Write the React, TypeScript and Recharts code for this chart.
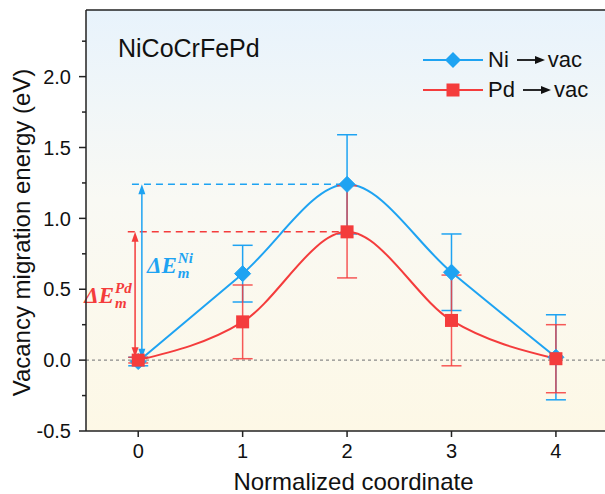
import React from 'react';
import {
  ComposedChart,
  Line,
  XAxis,
  YAxis,
  ErrorBar,
  ReferenceLine,
  ReferenceArea,
  Legend,
} from 'recharts';

// ---- data ----
const coords = [0, 1, 2, 3, 4];
const niEnergy = [-0.01, 0.61, 1.24, 0.62, 0.02];
const niError = [0.03, 0.2, 0.35, 0.27, 0.3];
const pdEnergy = [0.0, 0.27, 0.905, 0.28, 0.01];
const pdError = [0.02, 0.26, 0.325, 0.32, 0.24];
const xTicks = [0, 1, 2, 3, 4];
const yTicks = [-0.5, -0.25, 0, 0.25, 0.5, 0.75, 1.0, 1.25, 1.5, 1.75, 2.0, 2.25];
const seriesNames = ['Ni', 'Pd'];
const compoundName = 'NiCoCrFePd';

const data = coords.map((c, i) => ({
  x: c,
  ni: niEnergy[i],
  niErr: niError[i],
  pd: pdEnergy[i],
  pdErr: pdError[i],
}));

const BLUE = '#1ea3f2';
const RED = '#f43c3c';
const FONT = '"Liberation Sans", Arial, sans-serif';
const SERIF = '"Liberation Serif", "DejaVu Serif", serif';
const X_MIN = -0.5;
const X_MAX = 4.47;
const Y_MIN = -0.5;
const Y_MAX = 2.47;

const Diamond = (props: any) => {
  const { cx, cy } = props;
  if (cx == null || cy == null) return null;
  const r = 8;
  return (
    <polygon
      points={`${cx},${cy - r} ${cx + r},${cy} ${cx},${cy + r} ${cx - r},${cy}`}
      fill={BLUE}
      stroke={BLUE}
      strokeWidth={1}
    />
  );
};

const Square = (props: any) => {
  const { cx, cy } = props;
  if (cx == null || cy == null) return null;
  const r = 6.5;
  return <rect x={cx - r} y={cy - r} width={2 * r} height={2 * r} fill={RED} />;
};

const YTick = (props: any) => {
  const { x, y, payload } = props;
  const v = payload.value as number;
  const major = Math.abs(v * 2 - Math.round(v * 2)) < 1e-6;
  return (
    <g>
      <line x1={x} x2={x - (major ? 7 : 4)} y1={y} y2={y} stroke="#222" strokeWidth={1.5} />
      {major && (
        <text
          x={x - 15}
          y={y}
          dy="0.36em"
          textAnchor="end"
          fontSize={20}
          fontFamily={FONT}
          fill="#111"
        >
          {v.toFixed(1)}
        </text>
      )}
    </g>
  );
};

const arrowHead = (x: number, y: number, dir: number, color: string) => {
  const len = 10;
  const hw = 3.5;
  return (
    <polygon
      points={`${x},${y} ${x - hw},${y - dir * len} ${x + hw},${y - dir * len}`}
      fill={color}
    />
  );
};

const makeArrowShape = (color: string, sup: string, side: 'left' | 'right') => (props: any) => {
  const { x1, y1, y2 } = props;
  if (x1 == null) return null;
  const top = Math.min(y1, y2);
  const bottom = Math.max(y1, y2);
  const mid = (top + bottom) / 2;
  const px = side === 'right' ? x1 + 35 : x1 - 21;
  const base = side === 'right' ? mid + 1 : mid + 8;
  const common = {
    fontFamily: SERIF,
    fontStyle: 'italic',
    fontWeight: 'bold',
    fill: color,
  } as any;
  return (
    <g>
      <line x1={x1} x2={x1} y1={top + 8} y2={bottom - 8} stroke={color} strokeWidth={1.5} />
      {arrowHead(x1, top, -1, color)}
      {arrowHead(x1, bottom, 1, color)}
      <text x={px} y={base} textAnchor="end" fontSize={23} {...common}>
        ΔE
      </text>
      <text x={px + 1} y={base - 10} fontSize={15} {...common}>
        {sup}
      </text>
      <text x={px + 1} y={base + 5} fontSize={15} {...common}>
        m
      </text>
    </g>
  );
};

const LegendArrow = () => (
  <svg width={30} height={14} style={{ display: 'inline-block', verticalAlign: 'middle' }}>
    <line x1={1} x2={20} y1={7} y2={7} stroke="#111" strokeWidth={1.8} />
    <polygon points="29,7 19,3 19,11" fill="#111" />
  </svg>
);

const LegendContent = () => {
  const rows = [
    { name: seriesNames[0], color: BLUE, marker: 'diamond' },
    { name: seriesNames[1], color: RED, marker: 'square' },
  ];
  return (
    <div style={{ fontFamily: FONT, fontSize: 22, color: '#111' }}>
      {rows.map((r) => (
        <div key={r.name} style={{ display: 'flex', alignItems: 'center', height: 30 }}>
          <svg width={60} height={20}>
            <line x1={0} x2={60} y1={10} y2={10} stroke={r.color} strokeWidth={2} />
            {r.marker === 'diamond' ? (
              <polygon points="30,2 38,10 30,18 22,10" fill={r.color} />
            ) : (
              <rect x={23.5} y={3.5} width={13} height={13} fill={r.color} />
            )}
          </svg>
          <span style={{ marginLeft: 5 }}>{r.name}</span>
          <span style={{ marginLeft: 7, display: 'inline-flex' }}>
            <LegendArrow />
          </span>
          <span style={{ marginLeft: 2 }}>vac</span>
        </div>
      ))}
    </div>
  );
};

export default function App() {
  return (
    <div style={{ position: 'absolute', left: 0, top: 0, width: 605, height: 494 }}>
      <ComposedChart
        width={605}
        height={494}
        data={data}
        margin={{ top: 10, right: 0, bottom: 0, left: 0 }}
      >
        <defs>
          <linearGradient id="bgGrad" x1="0" y1="0" x2="0" y2="1">
            <stop offset="0%" stopColor="#e8f3fc" />
            <stop offset="45%" stopColor="#f9f9f4" />
            <stop offset="100%" stopColor="#fdf8e6" />
          </linearGradient>
        </defs>
        <ReferenceArea
          x1={X_MIN}
          x2={X_MAX}
          y1={Y_MIN}
          y2={Y_MAX}
          fill="url(#bgGrad)"
          fillOpacity={1}
          stroke="none"
          ifOverflow="visible"
        />
        <XAxis
          type="number"
          dataKey="x"
          domain={[X_MIN, X_MAX]}
          ticks={xTicks}
          allowDataOverflow
          height={63}
          tickSize={6}
          tickMargin={7}
          interval={0}
          axisLine={{ stroke: '#222', strokeWidth: 1.5 }}
          tickLine={{ stroke: '#222', strokeWidth: 1.5 }}
          tick={{ fontSize: 20, fontFamily: FONT, fill: '#111' }}
          label={{
            value: 'Normalized coordinate',
            position: 'insideBottom',
            offset: 4,
            dx: 8,
            style: { fontSize: 24, fontFamily: FONT, fill: '#111' },
          }}
        />
        <YAxis
          type="number"
          domain={[Y_MIN, Y_MAX]}
          ticks={yTicks}
          allowDataOverflow
          width={86}
          interval={0}
          tickSize={0}
          tickMargin={0}
          tickLine={false}
          axisLine={{ stroke: '#222', strokeWidth: 1.5 }}
          tick={<YTick />}
          label={{
            value: 'Vacancy migration energy (eV)',
            angle: -90,
            position: 'insideLeft',
            offset: 21,
            dy: 12,
            style: { fontSize: 24, fontFamily: FONT, fill: '#111', textAnchor: 'middle' },
          }}
        />
        <ReferenceLine y={Y_MAX} stroke="#222" strokeWidth={1.5} />
        <ReferenceLine y={0} stroke="#8a8a8a" strokeDasharray="3 3" strokeWidth={1.3} />
        <ReferenceLine
          segment={[
            { x: -0.06, y: niEnergy[2] },
            { x: 2, y: niEnergy[2] },
          ]}
          stroke={BLUE}
          strokeDasharray="7 5"
          strokeWidth={1.5}
        />
        <ReferenceLine
          segment={[
            { x: -0.1, y: pdEnergy[2] },
            { x: 2, y: pdEnergy[2] },
          ]}
          stroke={RED}
          strokeDasharray="7 5"
          strokeWidth={1.5}
        />
        <ReferenceLine
          segment={[
            { x: 0.035, y: niEnergy[2] },
            { x: 0.035, y: 0.01 },
          ]}
          stroke={BLUE}
          shape={makeArrowShape(BLUE, 'Ni', 'right')}
        />
        <ReferenceLine
          segment={[
            { x: -0.03, y: pdEnergy[2] },
            { x: -0.03, y: 0.02 },
          ]}
          stroke={RED}
          shape={makeArrowShape(RED, 'Pd', 'left')}
        />
        <Line
          type="monotone"
          dataKey="ni"
          name={seriesNames[0]}
          stroke={BLUE}
          strokeWidth={2}
          dot={<Diamond />}
          activeDot={false}
          isAnimationActive={false}
        >
          <ErrorBar dataKey="niErr" direction="y" width={10} stroke={BLUE} strokeWidth={1.5} />
        </Line>
        <Line
          type="monotone"
          dataKey="pd"
          name={seriesNames[1]}
          stroke={RED}
          strokeWidth={2}
          dot={<Square />}
          activeDot={false}
          isAnimationActive={false}
        >
          <ErrorBar dataKey="pdErr" direction="y" width={10} stroke={RED} strokeWidth={1.5} strokeOpacity={0.85} />
        </Line>
        <Legend
          layout="horizontal"
          verticalAlign="middle"
          align="center"
          content={<LegendContent />}
          wrapperStyle={{ position: 'absolute', left: 423, top: 45, width: 182, height: 60 }}
        />
      </ComposedChart>
      <div
        style={{
          position: 'absolute',
          left: 118,
          top: 34,
          fontFamily: FONT,
          fontSize: 25,
          color: '#111',
          whiteSpace: 'nowrap',
          pointerEvents: 'none',
        }}
      >
        {compoundName}
      </div>
    </div>
  );
}
